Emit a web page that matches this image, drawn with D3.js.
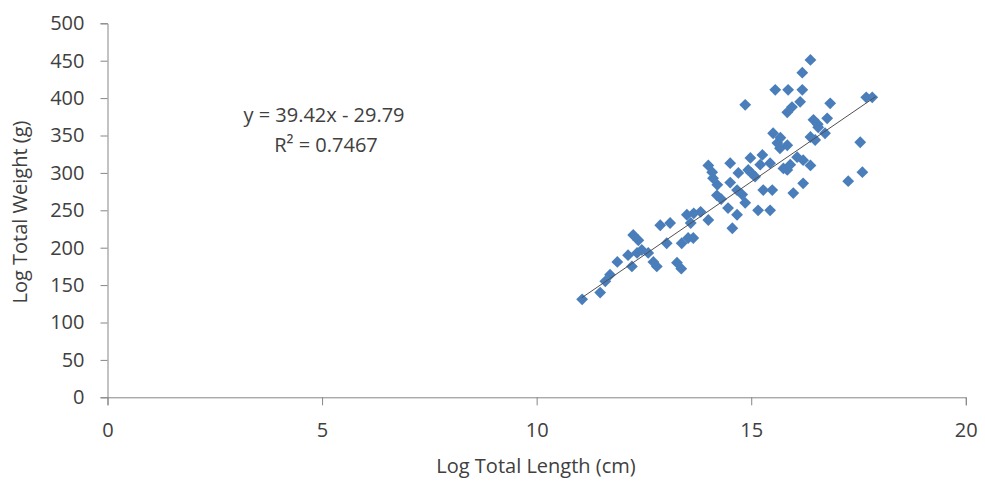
<!DOCTYPE html>
<html>
<head>
<meta charset="utf-8">
<script src="https://cdn.jsdelivr.net/npm/d3@7"></script>
<style>
  body { margin: 0; background: #fff; }
  text { font-family: "Open Sans", sans-serif; fill: #404040; }
</style>
</head>
<body>
<svg id="chart" width="985" height="481"></svg>
<script>
// lengths (x) and weights (y)
const lengths = [11.06, 11.48, 11.60, 11.71, 11.88, 12.13, 12.22, 12.25, 12.37, 12.34,
  12.45, 12.60, 12.72, 12.80, 12.88, 13.11, 13.03, 13.27, 13.37, 13.38,
  13.53, 13.65, 13.50, 13.66, 13.82, 14.0, 13.59, 14.0, 14.09, 14.11,
  14.21, 14.51, 14.98, 15.26, 14.93, 15.09, 15.67, 15.84, 15.75, 15.91,
  15.98, 15.28, 15.49, 15.16, 15.44, 14.51, 14.67, 14.79, 14.86, 14.46,
  14.67, 14.56, 14.86, 16.38, 16.19, 15.56, 15.86, 16.19, 16.14, 15.95,
  15.84, 16.84, 17.68, 17.82, 16.45, 16.77, 16.56, 16.72, 16.38, 16.49,
  15.51, 15.68, 15.61, 15.44, 15.21, 16.07, 16.21, 15.84, 16.38, 17.54,
  17.59, 17.26, 16.21, 14.3, 14.2, 15.0, 14.7, 16.55];
const weights = [131, 140, 155, 164, 181, 190, 175, 217, 210, 193,
  197, 193, 181, 175, 230, 233, 206, 180, 172, 206,
  213, 213, 244, 246, 248, 237, 233, 310, 301, 293,
  284, 313, 320, 324, 304, 295, 333, 337, 306, 311,
  273, 277, 277, 250, 250, 287, 277, 271, 260, 253,
  244, 226, 391, 451, 434, 411, 411, 411, 395, 388,
  381, 393, 401, 401, 371, 373, 361, 353, 348, 344,
  353, 347, 340, 313, 311, 321, 317, 304, 310, 341,
  301, 289, 286, 265, 270, 300, 300, 365];
const xTicks = [0, 5, 10, 15, 20];
const yTicks = [0, 50, 100, 150, 200, 250, 300, 350, 400, 450, 500];
// trend line ends as drawn in the picture (the printed intercept does not fit the axes)
const trendX = [11.05, 17.9];
const trendY = [133, 402];
const eqText = "y = 39.42x - 29.79";
const r2Text = "R² = 0.7467";

const points = lengths.map((l, i) => ({x: l, y: weights[i]}));

const svg = d3.select("#chart");
const plotLeft = 107.5, plotRight = 965.8, plotTop = 23.3, plotBottom = 397.3;

const x = d3.scaleLinear().domain([0, 20]).range([plotLeft, plotRight]);
const y = d3.scaleLinear().domain([0, 500]).range([plotBottom, plotTop]);

// y axis
const yAxis = svg.append("g").attr("transform", `translate(${plotLeft},0)`)
  .call(d3.axisLeft(y).tickValues(yTicks).tickSize(7).tickPadding(16));
yAxis.select(".domain").attr("stroke", "#868686");
yAxis.selectAll(".tick line").attr("stroke", "#868686");
yAxis.selectAll(".tick text").style("font-size", "20px").attr("fill", "#404040");

// x axis
const xAxis = svg.append("g").attr("transform", `translate(0,${plotBottom})`)
  .call(d3.axisBottom(x).tickValues(xTicks).tickSize(8).tickPadding(18));
xAxis.select(".domain").attr("stroke", "#868686");
xAxis.selectAll(".tick line").attr("stroke", "#868686");
xAxis.selectAll(".tick text").style("font-size", "20px").attr("fill", "#404040");

// axis titles
svg.append("text").attr("x", 536).attr("y", 473)
  .attr("text-anchor", "middle").style("font-size", "20px")
  .text("Log Total Length (cm)");
svg.append("text").attr("transform", "translate(27,212) rotate(-90)")
  .attr("text-anchor", "middle").style("font-size", "20px")
  .text("Log Total Weight (g)");

// markers
const diamond = d3.symbol().type(d3.symbolSquare).size(70);
svg.append("g").selectAll("path").data(points).join("path")
  .attr("d", diamond)
  .attr("transform", d => `translate(${x(d.x)},${y(d.y)}) rotate(45)`)
  .attr("fill", "#4a7ebb");

// trend line
svg.append("line")
  .attr("x1", x(trendX[0])).attr("y1", y(trendY[0]))
  .attr("x2", x(trendX[1])).attr("y2", y(trendY[1]))
  .attr("stroke", "#505050").attr("stroke-width", 1);

// equation
svg.append("text").attr("x", 324).attr("y", 122).attr("text-anchor", "middle")
  .style("font-size", "20px").text(eqText);
svg.append("text").attr("x", 326).attr("y", 152).attr("text-anchor", "middle")
  .style("font-size", "20px").text(r2Text);
</script>
</body>
</html>
